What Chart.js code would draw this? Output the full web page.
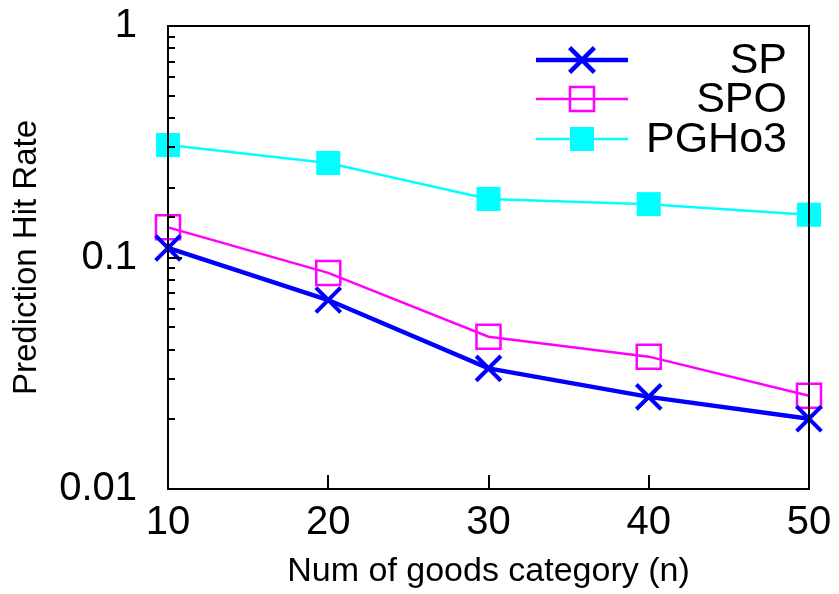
<!DOCTYPE html>
<html>
<head>
<meta charset="utf-8">
<script src="https://cdn.jsdelivr.net/npm/chart.js@4/dist/chart.umd.min.js"></script>
<style>
  html, body { margin: 0; padding: 0; background: #fff; }
  #wrap { width: 839px; height: 594px; }
</style>
</head>
<body>
<div id="wrap"><canvas id="hitrate" width="839" height="594"></canvas></div>
<script>
// values
const categories = [10, 20, 30, 40, 50];
const spValues = [0.110, 0.0655, 0.0332, 0.0250, 0.0201];
const spoValues = [0.135, 0.0858, 0.0455, 0.0373, 0.0253];
const pgho3Values = [0.306, 0.256, 0.179, 0.170, 0.153];
const yTickLabels = [0.01, 0.1, 1];
const xTickLabels = [10, 20, 30, 40, 50];

const FONT = "'Liberation Sans', Arial, sans-serif";

function toPoints(vals) {
    return categories.map((c, i) => ({ x: c, y: vals[i] }));
}

// box around the plot + inward ticks
const frame = {
    id: 'frame',
    afterDatasetsDraw(chart) {
        const ctx = chart.ctx;
        const a = chart.chartArea;
        const xs = chart.scales.x, ys = chart.scales.y;
        ctx.save();
        ctx.strokeStyle = '#000';
        ctx.lineWidth = 2;
        ctx.beginPath();
        ys.ticks.forEach(t => {
            const py = Math.round(ys.getPixelForValue(t.value));
            if (py <= a.top + 1 || py >= a.bottom - 1) return;
            const len = yTickLabels.includes(t.value) ? 14 : 7;
            ctx.moveTo(a.left, py);
            ctx.lineTo(a.left + len, py);
        });
        xs.ticks.forEach(t => {
            const px = Math.round(xs.getPixelForValue(t.value));
            if (px <= a.left + 1 || px >= a.right - 1) return;
            ctx.moveTo(px, a.bottom);
            ctx.lineTo(px, a.bottom - 14);
        });
        ctx.stroke();
        ctx.strokeRect(a.left, a.top, a.right - a.left, a.bottom - a.top);
        ctx.restore();
    }
};

// gnuplot-style key: sample line on the left, label right-aligned
const key = {
    id: 'key',
    afterDraw(chart) {
        const ctx = chart.ctx;
        const rows = [60, 99, 139];
        ctx.save();
        chart.data.datasets.forEach((ds, i) => {
            const y = rows[i];
            ctx.strokeStyle = ds.borderColor;
            ctx.lineWidth = ds.borderWidth;
            ctx.beginPath();
            ctx.moveTo(536, y);
            ctx.lineTo(628, y);
            ctx.stroke();
            ctx.strokeStyle = ds.pointBorderColor;
            ctx.fillStyle = ds.pointBackgroundColor;
            Chart.helpers.drawPoint(ctx, {
                pointStyle: ds.pointStyle,
                radius: ds.pointRadius,
                borderWidth: ds.pointBorderWidth,
                rotation: 0
            }, 582, y);
            ctx.fillStyle = '#000';
            ctx.font = '43px ' + FONT;
            ctx.textAlign = 'right';
            ctx.textBaseline = 'middle';
            ctx.fillText(ds.label, 787, y + 1);
        });
        ctx.restore();
    }
};

const ctx = document.getElementById('hitrate');

new Chart(ctx, {
    type: 'line',
    data: {
        datasets: [{
            label: 'SP',
            data: toPoints(spValues),
            borderColor: '#0000ff',
            borderWidth: 4.5,
            pointStyle: 'crossRot',
            pointRadius: 17.5,
            pointBorderWidth: 4,
            pointBorderColor: '#0000ff',
            pointBackgroundColor: '#0000ff'
        }, {
            label: 'SPO',
            data: toPoints(spoValues),
            borderColor: '#ff00ff',
            borderWidth: 2.5,
            pointStyle: 'rect',
            pointRadius: 17,
            pointBorderWidth: 2.5,
            pointBorderColor: '#ff00ff',
            pointBackgroundColor: 'rgba(0,0,0,0)'
        }, {
            label: 'PGHo3',
            data: toPoints(pgho3Values),
            borderColor: '#00ffff',
            borderWidth: 2.5,
            pointStyle: 'rect',
            pointRadius: 17,
            pointBorderWidth: 0,
            pointBorderColor: '#00ffff',
            pointBackgroundColor: '#00ffff'
        }]
    },
    options: {
        responsive: false,
        animation: false,
        clip: false,
        layout: { padding: { top: 26, right: 30, left: 0, bottom: 0 } },
        plugins: {
            legend: { display: false },
            tooltip: { enabled: false }
        },
        elements: { line: { tension: 0 } },
        scales: {
            x: {
                type: 'linear',
                min: 10,
                max: 50,
                afterFit(s) { s.height = 105; s.paddingLeft = 0; s.paddingRight = 0; },
                afterBuildTicks(s) { s.ticks = xTickLabels.map(v => ({ value: v })); },
                grid: { display: false, drawTicks: false },
                border: { display: false },
                ticks: {
                    color: '#000',
                    font: { family: FONT, size: 40 },
                    padding: 10,
                    maxRotation: 0
                },
                title: {
                    display: true,
                    text: 'Num of goods category (n)',
                    color: '#000',
                    font: { family: FONT, size: 34 },
                    padding: { top: 0, bottom: 2 }
                }
            },
            y: {
                type: 'logarithmic',
                min: 0.01,
                max: 1,
                afterFit(s) { s.width = 168; s.paddingTop = 0; s.paddingBottom = 0; },
                grid: { display: false, drawTicks: false },
                border: { display: false },
                ticks: {
                    color: '#000',
                    font: { family: FONT, size: 40 },
                    padding: 31,
                    autoSkip: false,
                    callback: v => yTickLabels.includes(v) ? String(v) : ''
                },
                title: {
                    display: true,
                    text: 'Prediction Hit Rate',
                    color: '#000',
                    font: { family: FONT, size: 33 },
                    padding: { top: 7, bottom: 0 }
                }
            }
        }
    },
    plugins: [frame, key]
});
</script>
</body>
</html>
